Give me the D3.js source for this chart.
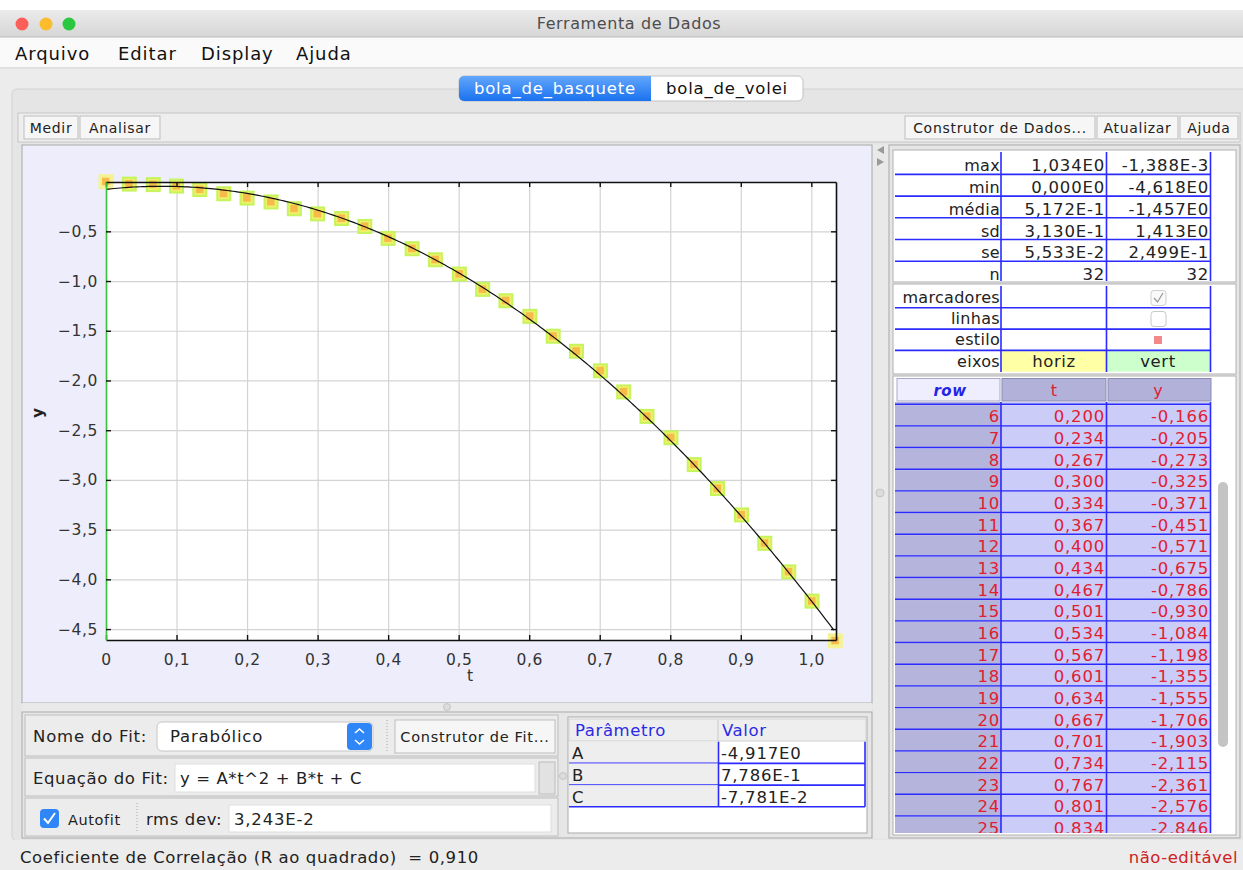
<!DOCTYPE html>
<html>
<head>
<meta charset="utf-8">
<script src="https://cdn.jsdelivr.net/npm/d3@7"></script>
<style>
  body { margin: 0; background: #fff; }
  svg { display: block; font-family: "DejaVu Sans", "Noto Sans", sans-serif; }
</style>
</head>
<body>
<svg id="app" width="1243" height="870"></svg>
<script>
// ---- data ----
const tValues = [0.000, 0.033, 0.067, 0.100, 0.133, 0.167, 0.200, 0.234, 0.267, 0.300, 0.334, 0.367,
  0.400, 0.434, 0.467, 0.501, 0.534, 0.567, 0.601, 0.634, 0.667, 0.701, 0.734, 0.767, 0.801, 0.834,
  0.867, 0.901, 0.934, 0.968, 1.001, 1.034];
const yValues = [-0.001, -0.025, -0.030, -0.045, -0.080, -0.122, -0.166, -0.205, -0.273, -0.325, -0.371, -0.451,
  -0.571, -0.675, -0.786, -0.930, -1.084, -1.198, -1.355, -1.555, -1.706, -1.903, -2.115, -2.361, -2.576, -2.846,
  -3.087, -3.352, -3.637, -3.925, -4.219, -4.618];

const xTicks = [0, 0.1, 0.2, 0.3, 0.4, 0.5, 0.6, 0.7, 0.8, 0.9, 1.0];
const yTicks = [-0.5, -1.0, -1.5, -2.0, -2.5, -3.0, -3.5, -4.0, -4.5];

const statLabels = ['max', 'min', 'média', 'sd', 'se', 'n'];
const statT = ['1,034E0', '0,000E0', '5,172E-1', '3,130E-1', '5,533E-2', '32'];
const statY = ['-1,388E-3', '-4,618E0', '-1,457E0', '1,413E0', '2,499E-1', '32'];

const fitNames = ['A', 'B', 'C'];
const fitValues = [-4.917, 0.7786, -0.07781];
const fitLabels = ['-4,917E0', '7,786E-1', '-7,781E-2'];

const menuItems = ['Arquivo', 'Editar', 'Display', 'Ajuda'];
const firstVisibleRow = 6, lastVisibleRow = 25;

const svg = d3.select('#app');
const comma = v => v.toFixed(3).replace('.', ',');

// helpers
function rect(g, x, y, w, h, fill, stroke, rx) {
  return g.append('rect').attr('x', x).attr('y', y).attr('width', w).attr('height', h)
    .attr('fill', fill).attr('stroke', stroke || 'none').attr('rx', rx || 0);
}
function text(g, x, y, s, size, color, anchor, ls) {
  return g.append('text').attr('x', x).attr('y', y).text(s)
    .attr('font-size', size).attr('fill', color || '#1a1a1a').attr('text-anchor', anchor || 'start')
    .attr('letter-spacing', ls == null ? 0.5 : ls);
}
function line(g, x1, y1, x2, y2, color, w) {
  return g.append('line').attr('x1', x1).attr('y1', y1).attr('x2', x2).attr('y2', y2)
    .attr('stroke', color).attr('stroke-width', w || 1);
}

const defs = svg.append('defs');
const tg = defs.append('linearGradient').attr('id', 'titleGrad').attr('x1', 0).attr('y1', 0).attr('x2', 0).attr('y2', 1);
tg.append('stop').attr('offset', 0).attr('stop-color', '#ebebeb');
tg.append('stop').attr('offset', 1).attr('stop-color', '#d6d6d6');
const bg = defs.append('linearGradient').attr('id', 'blueGrad').attr('x1', 0).attr('y1', 0).attr('x2', 0).attr('y2', 1);
bg.append('stop').attr('offset', 0).attr('stop-color', '#62a6fb');
bg.append('stop').attr('offset', 1).attr('stop-color', '#1a72ef');
defs.append('clipPath').attr('id', 'rowsClip').append('rect')
  .attr('x', 893).attr('y', 402).attr('width', 343).attr('height', 431);

// ---- window chrome ----
rect(svg, 0, 0, 1243, 870, '#fff');
rect(svg, 0, 10, 1243, 27, 'url(#titleGrad)');
line(svg, 0, 37, 1243, 37, '#b8b8b8');
[['#fc5f57', 22], ['#fdbc2e', 46], ['#29c840', 69]].forEach(([c, cx]) => {
  svg.append('circle').attr('cx', cx).attr('cy', 24).attr('r', 6.5).attr('fill', c);
});
text(svg, 629, 29, 'Ferramenta de Dados', 16, '#4d4d4d', 'middle', 0.6);

rect(svg, 0, 38, 1243, 30, '#fafafa');
line(svg, 0, 68, 1243, 68, '#c4c4c4');
const menuX = [15, 118, 201, 296];
menuItems.forEach((m, i) => text(svg, menuX[i], 60, m, 18, '#111', 'start', 0.9));

rect(svg, 0, 69, 1243, 771, '#ececec');
rect(svg, 12, 89, 1240, 752, '#e5e5e5', '#d2d2d2', 5);

// tabs
rect(svg, 459, 76, 344, 25, '#fff', '#c2c2c2', 5);
svg.append('path').attr('d', 'M464,76 H651 V101 H464 A5,5 0 0 1 459,96 V81 A5,5 0 0 1 464,76 Z').attr('fill', 'url(#blueGrad)');
text(svg, 555, 94, 'bola_de_basquete', 16.5, '#fff', 'middle', 0.8);
text(svg, 727, 94, 'bola_de_volei', 16.5, '#111', 'middle', 0.8);

// toolbar
rect(svg, 18, 113, 1222, 29, '#eeeeee', '#c6c6c6');
function button(x, w, label, y, h, size) {
  rect(svg, x, y || 116, w, h || 23, '#f6f6f6', '#bdbdbd');
  text(svg, x + w / 2, (y || 116) + (h || 23) / 2 + 5, label, size || 14, '#222', 'middle', 0.7);
}
button(24, 54, 'Medir');
button(80, 80, 'Analisar');
button(905, 190, 'Construtor de Dados...');
button(1097, 81, 'Atualizar');
button(1180, 58, 'Ajuda');

// ---- plot panel ----
rect(svg, 22, 145, 850, 558, '#ededfb', '#a9a9a9');
const x = d3.scaleLinear().domain([0, 1.035]).range([106, 836]);
const y = d3.scaleLinear().domain([-4.61, -0.004]).range([640, 182]);
const plot = svg.append('g');
rect(plot, x(0), y.range()[1], x.range()[1] - x(0), y.range()[0] - y.range()[1], '#fff');

// grid
plot.append('g').attr('transform', `translate(0,${y.range()[0]})`)
  .call(d3.axisBottom(x).tickValues(xTicks).tickSize(-(y.range()[0] - y.range()[1])).tickFormat(''))
  .call(g => g.select('.domain').remove())
  .call(g => g.selectAll('line').attr('stroke', '#d3d3d3').attr('stroke-width', 1.2));
plot.append('g').attr('transform', `translate(${x(0)},0)`)
  .call(d3.axisLeft(y).tickValues(yTicks).tickSize(-(x.range()[1] - x(0))).tickFormat(''))
  .call(g => g.select('.domain').remove())
  .call(g => g.selectAll('line').attr('stroke', '#d3d3d3').attr('stroke-width', 1.2));

// data markers
const pts = tValues.map((t, i) => ({ t, v: yValues[i], i }));
const mk = plot.selectAll('g.mk').data(pts).enter().append('g').attr('class', 'mk')
  .attr('transform', d => `translate(${x(d.t)},${y(d.v)})`);
const edge = d => d.i === 0 || d.i === pts.length - 1;
mk.append('rect').attr('x', -7.5).attr('y', -7.5).attr('width', 15).attr('height', 15)
  .attr('fill', d => edge(d) ? '#f5f294' : '#c6f45c');
mk.filter(d => !edge(d)).append('rect').attr('x', -5.5).attr('y', -5.5).attr('width', 11).attr('height', 11)
  .attr('fill', '#eef06a');
mk.append('rect').attr('x', -4).attr('y', -4).attr('width', 7.5).attr('height', 7.5)
  .attr('fill', '#f6bb48');

// fit curve from the fit parameters shown in the table
const [A, B, C] = fitValues;
const curveT = d3.range(0, 1.0341, 0.004);
plot.append('path').datum(curveT)
  .attr('d', d3.line().x(t => x(t)).y(t => y(A * t * t + B * t + C)))
  .attr('fill', 'none').attr('stroke', '#111').attr('stroke-width', 1.2);

// axes and frame, ticks pointing inward
const fmtX = d => d === 0 ? '0' : d.toFixed(1).replace('.', ',');
const fmtY = d => d.toFixed(1).replace('.', ',').replace('-', '\u2212');
const styleAxis = (g, c) => {
  g.select('.domain').attr('stroke', c).attr('stroke-width', 1.6);
  g.selectAll('.tick line').attr('stroke', '#111').attr('stroke-width', 1.4);
  g.selectAll('.tick text').attr('fill', '#333').attr('font-size', 15.5).attr('letter-spacing', 0.6)
    .attr('font-family', '"DejaVu Sans", sans-serif');
};
plot.append('g').attr('transform', `translate(0,${y.range()[1]})`)
  .call(d3.axisTop(x).tickValues(xTicks).tickSize(-5).tickSizeOuter(0).tickFormat(''))
  .call(g => styleAxis(g, '#111'));
plot.append('g').attr('transform', `translate(${x.range()[1]},0)`)
  .call(d3.axisRight(y).tickValues(yTicks).tickSize(-5).tickSizeOuter(0).tickFormat(''))
  .call(g => styleAxis(g, '#111'));
plot.append('g').attr('transform', `translate(0,${y.range()[0]})`)
  .call(d3.axisBottom(x).tickValues(xTicks).tickSize(-5).tickSizeOuter(0).tickPadding(14).tickFormat(fmtX))
  .call(g => styleAxis(g, '#111'));
plot.append('g').attr('transform', `translate(${x(0)},0)`)
  .call(d3.axisLeft(y).tickValues(yTicks).tickSize(-5).tickSizeOuter(0).tickPadding(8).tickFormat(fmtY))
  .call(g => styleAxis(g, '#3cc23c'));

text(plot, 470, 681, 't', 15.5, '#333', 'middle', 0);
text(plot, 0, 0, 'y', 15.5, '#222', 'middle', 0).attr('font-weight', 'bold')
  .attr('transform', 'translate(43,413) rotate(-90)');

// split pane dividers
rect(svg, 873, 145, 15, 693, '#e9e9e9');
svg.append('path').attr('d', 'M884,146 L877,150 L884,154 Z').attr('fill', '#9a9a9a');
svg.append('path').attr('d', 'M877,158 L884,162 L877,166 Z').attr('fill', '#9a9a9a');
svg.append('circle').attr('cx', 880).attr('cy', 493).attr('r', 4).attr('fill', '#dcdcdc').attr('stroke', '#c4c4c4');
rect(svg, 22, 703, 850, 9, '#e9e9e9');
svg.append('circle').attr('cx', 447).attr('cy', 707).attr('r', 3.5).attr('fill', '#dcdcdc').attr('stroke', '#c4c4c4');

// ---- right panel: statistics ----
rect(svg, 889, 145, 351, 693, '#e6e6e6', '#a9a9a9');
const colL = [895, 1001, 1106.5, 1210.5];
const blue = '#2b2bff';

rect(svg, 893, 150, 343, 132, '#fff', '#b0b0b0');
const statTop = 152.7, pitch = 21.7;
statLabels.forEach((lab, i) => {
  const bottom = statTop + (i + 1) * pitch;
  if (i < statLabels.length - 1) line(svg, colL[0], bottom, colL[3], bottom, blue, 1.6);
  text(svg, 1000, bottom - 3, lab, 16, '#222', 'end', 0.3);
  text(svg, 1105, bottom - 3, statT[i], 16.5, '#222', 'end', 0.8);
  text(svg, 1209, bottom - 3, statY[i], 16.5, '#222', 'end', 0.8);
});
[1, 2, 3].forEach(k => line(svg, colL[k], 152, colL[k], 281, blue, 1.6));

// display options box
rect(svg, 893, 284, 343, 90, '#fff', '#b0b0b0');
const optLabels = ['marcadores', 'linhas', 'estilo', 'eixos'];
const optTop = 286.5, optPitch = 21.3;
rect(svg, 1001, optTop + 3 * optPitch, 105.5, optPitch, '#ffffa6');
rect(svg, 1106.5, optTop + 3 * optPitch, 104, optPitch, '#ccffcc');
optLabels.forEach((lab, i) => {
  const bottom = optTop + (i + 1) * optPitch;
  if (i < optLabels.length - 1) line(svg, colL[0], bottom, colL[3], bottom, blue, 1.6);
  text(svg, 1000, bottom - 5, lab, 16, '#222', 'end', 0.3);
});
[1, 2, 3].forEach(k => line(svg, colL[k], 286, colL[k], 372, blue, 1.6));
rect(svg, 1151, 290.5, 15, 15, '#fafafa', '#cfcfcf', 3);
svg.append('path').attr('d', 'M1154,298 L1157.5,302 L1163,293').attr('fill', 'none').attr('stroke', '#9a9a9a').attr('stroke-width', 1.3);
rect(svg, 1151, 311.5, 15, 15, '#fff', '#c8c8c8', 3);
rect(svg, 1154, 336, 8, 8, '#f38a8a');
text(svg, 1054, 367, 'horiz', 16.5, '#222', 'middle', 0.6);
text(svg, 1158, 367, 'vert', 16.5, '#222', 'middle', 0.6);

// data table
rect(svg, 893, 376, 343, 459, '#fff', '#b0b0b0');
rect(svg, 897, 378.5, 103, 22.5, '#eeeeff', '#a9a9c8');
rect(svg, 1002, 378.5, 104, 22.5, '#b1b1da', '#8a8ab0');
rect(svg, 1108, 378.5, 103, 22.5, '#b1b1da', '#8a8ab0');
text(svg, 950, 396, 'row', 15, '#2424e6', 'middle', 0.5).attr('font-weight', 'bold').attr('font-style', 'italic');
text(svg, 1054, 396, 't', 16, '#e02030', 'middle', 0);
text(svg, 1158, 396, 'y', 16, '#e02030', 'middle', 0);

const rowsG = svg.append('g').attr('clip-path', 'url(#rowsClip)');
const rowTop = r => 404.3 + (r - firstVisibleRow) * 21.67;
const shown = pts.filter(d => d.i >= firstVisibleRow && d.i <= lastVisibleRow);
// strip of the previous row peeking above the first visible one
rect(rowsG, colL[0], 402, colL[1] - colL[0], 3, '#b4b4dc');
rect(rowsG, colL[1], 402, colL[3] - colL[1], 3, '#ccccf9');
line(rowsG, colL[0], rowTop(firstVisibleRow), colL[3], rowTop(firstVisibleRow), blue, 1.6);
const tr = rowsG.selectAll('g.row').data(shown).enter().append('g').attr('class', 'row')
  .attr('transform', d => `translate(0,${rowTop(d.i)})`);
tr.append('rect').attr('x', colL[0]).attr('y', 0.8).attr('width', colL[1] - colL[0]).attr('height', 20.9).attr('fill', '#b4b4dc');
tr.append('rect').attr('x', colL[1]).attr('y', 0.8).attr('width', colL[3] - colL[1]).attr('height', 20.9).attr('fill', '#ccccf9');
tr.append('line').attr('x1', colL[0]).attr('x2', colL[3]).attr('y1', 21.67).attr('y2', 21.67)
  .attr('stroke', blue).attr('stroke-width', 1.6);
const cellText = (xp, f) => tr.append('text').attr('x', xp).attr('y', 18).attr('text-anchor', 'end')
  .attr('font-size', 16.5).attr('letter-spacing', 0.8).attr('fill', '#e02030').text(f);
cellText(1000, d => d.i);
cellText(1105, d => comma(d.t));
cellText(1209, d => comma(d.v));
[1, 2, 3].forEach(k => line(rowsG, colL[k], 402, colL[k], 833, blue, 1.6));
rect(svg, 1218, 482, 10, 265, '#c4c4c4', null, 5);

// ---- fit panel ----
rect(svg, 22, 712, 850, 126, '#e6e6e6', '#a9a9a9');
rect(svg, 25, 715, 533, 41, '#ececec', '#bdbdbd');
rect(svg, 25, 758, 533, 38, '#ececec', '#bdbdbd');
rect(svg, 25, 798, 533, 38, '#ececec', '#bdbdbd');

text(svg, 33, 742, 'Nome do Fit:', 16.5, '#222', 'start', 0.8);
rect(svg, 157, 722, 216, 29, '#fff', '#c6c6c6', 5);
text(svg, 170, 742, 'Parabólico', 16.5, '#222', 'start', 0.8);
rect(svg, 347, 723, 25, 27, '#2e86f7', null, 4);
svg.append('path').attr('d', 'M355,733 L359.5,729 L364,733 M355,740 L359.5,744 L364,740')
  .attr('fill', 'none').attr('stroke', '#fff').attr('stroke-width', 1.6);
line(svg, 387, 720, 387, 752, '#a8a8a8').attr('stroke-dasharray', '1,2');
button(395, 160, 'Construtor de Fit...', 720, 33, 14.5);

text(svg, 33, 784, 'Equação do Fit:', 16.5, '#222', 'start', 0.6);
rect(svg, 175, 764, 360, 28, '#fff', '#dedede');
text(svg, 180, 784, 'y = A*t^2 + B*t + C', 16.5, '#222', 'start', 0.6);
rect(svg, 539, 762, 16, 32, '#e2e2e2', '#bcbcbc');
svg.append('circle').attr('cx', 563).attr('cy', 776).attr('r', 3.5).attr('fill', '#dcdcdc').attr('stroke', '#c4c4c4');

rect(svg, 40, 809, 19, 19, '#2e86f7', null, 4);
svg.append('path').attr('d', 'M44,818.5 L48,823 L55,813').attr('fill', 'none').attr('stroke', '#fff').attr('stroke-width', 2);
text(svg, 68, 825, 'Autofit', 14.5, '#222', 'start', 0.6);
line(svg, 137, 803, 137, 832, '#a8a8a8').attr('stroke-dasharray', '1,2');
text(svg, 146, 825, 'rms dev:', 16.5, '#222', 'start', 0.6);
rect(svg, 229, 805, 322, 27, '#fff', '#dedede');
text(svg, 234, 825, '3,243E-2', 16.5, '#222', 'start', 0.8);

// parameter table
rect(svg, 568, 717, 299, 116, '#fff', '#a9a9a9');
rect(svg, 569, 719, 297, 22, '#eeeeee', '#d0d0d0');
line(svg, 718, 720, 718, 741, '#c8c8c8');
text(svg, 575, 736, 'Parâmetro', 16.5, '#2a2ae6', 'start', 0.6);
text(svg, 722, 736, 'Valor', 16.5, '#2a2ae6', 'start', 0.6);
const pTop = 741.7, pPitch = 21.7;
fitNames.forEach((n, i) => {
  const top = pTop + i * pPitch;
  rect(svg, 569, top, 149, pPitch, '#eeeeee');
  text(svg, 572, top + pPitch - 4, n, 16.5, '#222', 'start', 0);
  text(svg, 721, top + pPitch - 4, fitLabels[i], 16.5, '#222', 'start', 0.8);
  line(svg, 569, top + pPitch, 865, top + pPitch, blue, 1.6);
});
line(svg, 718.5, pTop, 718.5, pTop + 3 * pPitch, blue, 1.6);
line(svg, 865, pTop, 865, pTop + 3 * pPitch, blue, 1.6);

// ---- status bar ----
rect(svg, 0, 840, 1243, 30, '#ececec');
text(svg, 20, 863, 'Coeficiente de Correlação (R ao quadrado)  = 0,910', 16.5, '#222', 'start', 0.6)
  .style('white-space', 'pre');
text(svg, 1238, 863, 'não-editável', 16.5, '#cc2222', 'end', 0.5);
</script>
</body>
</html>
